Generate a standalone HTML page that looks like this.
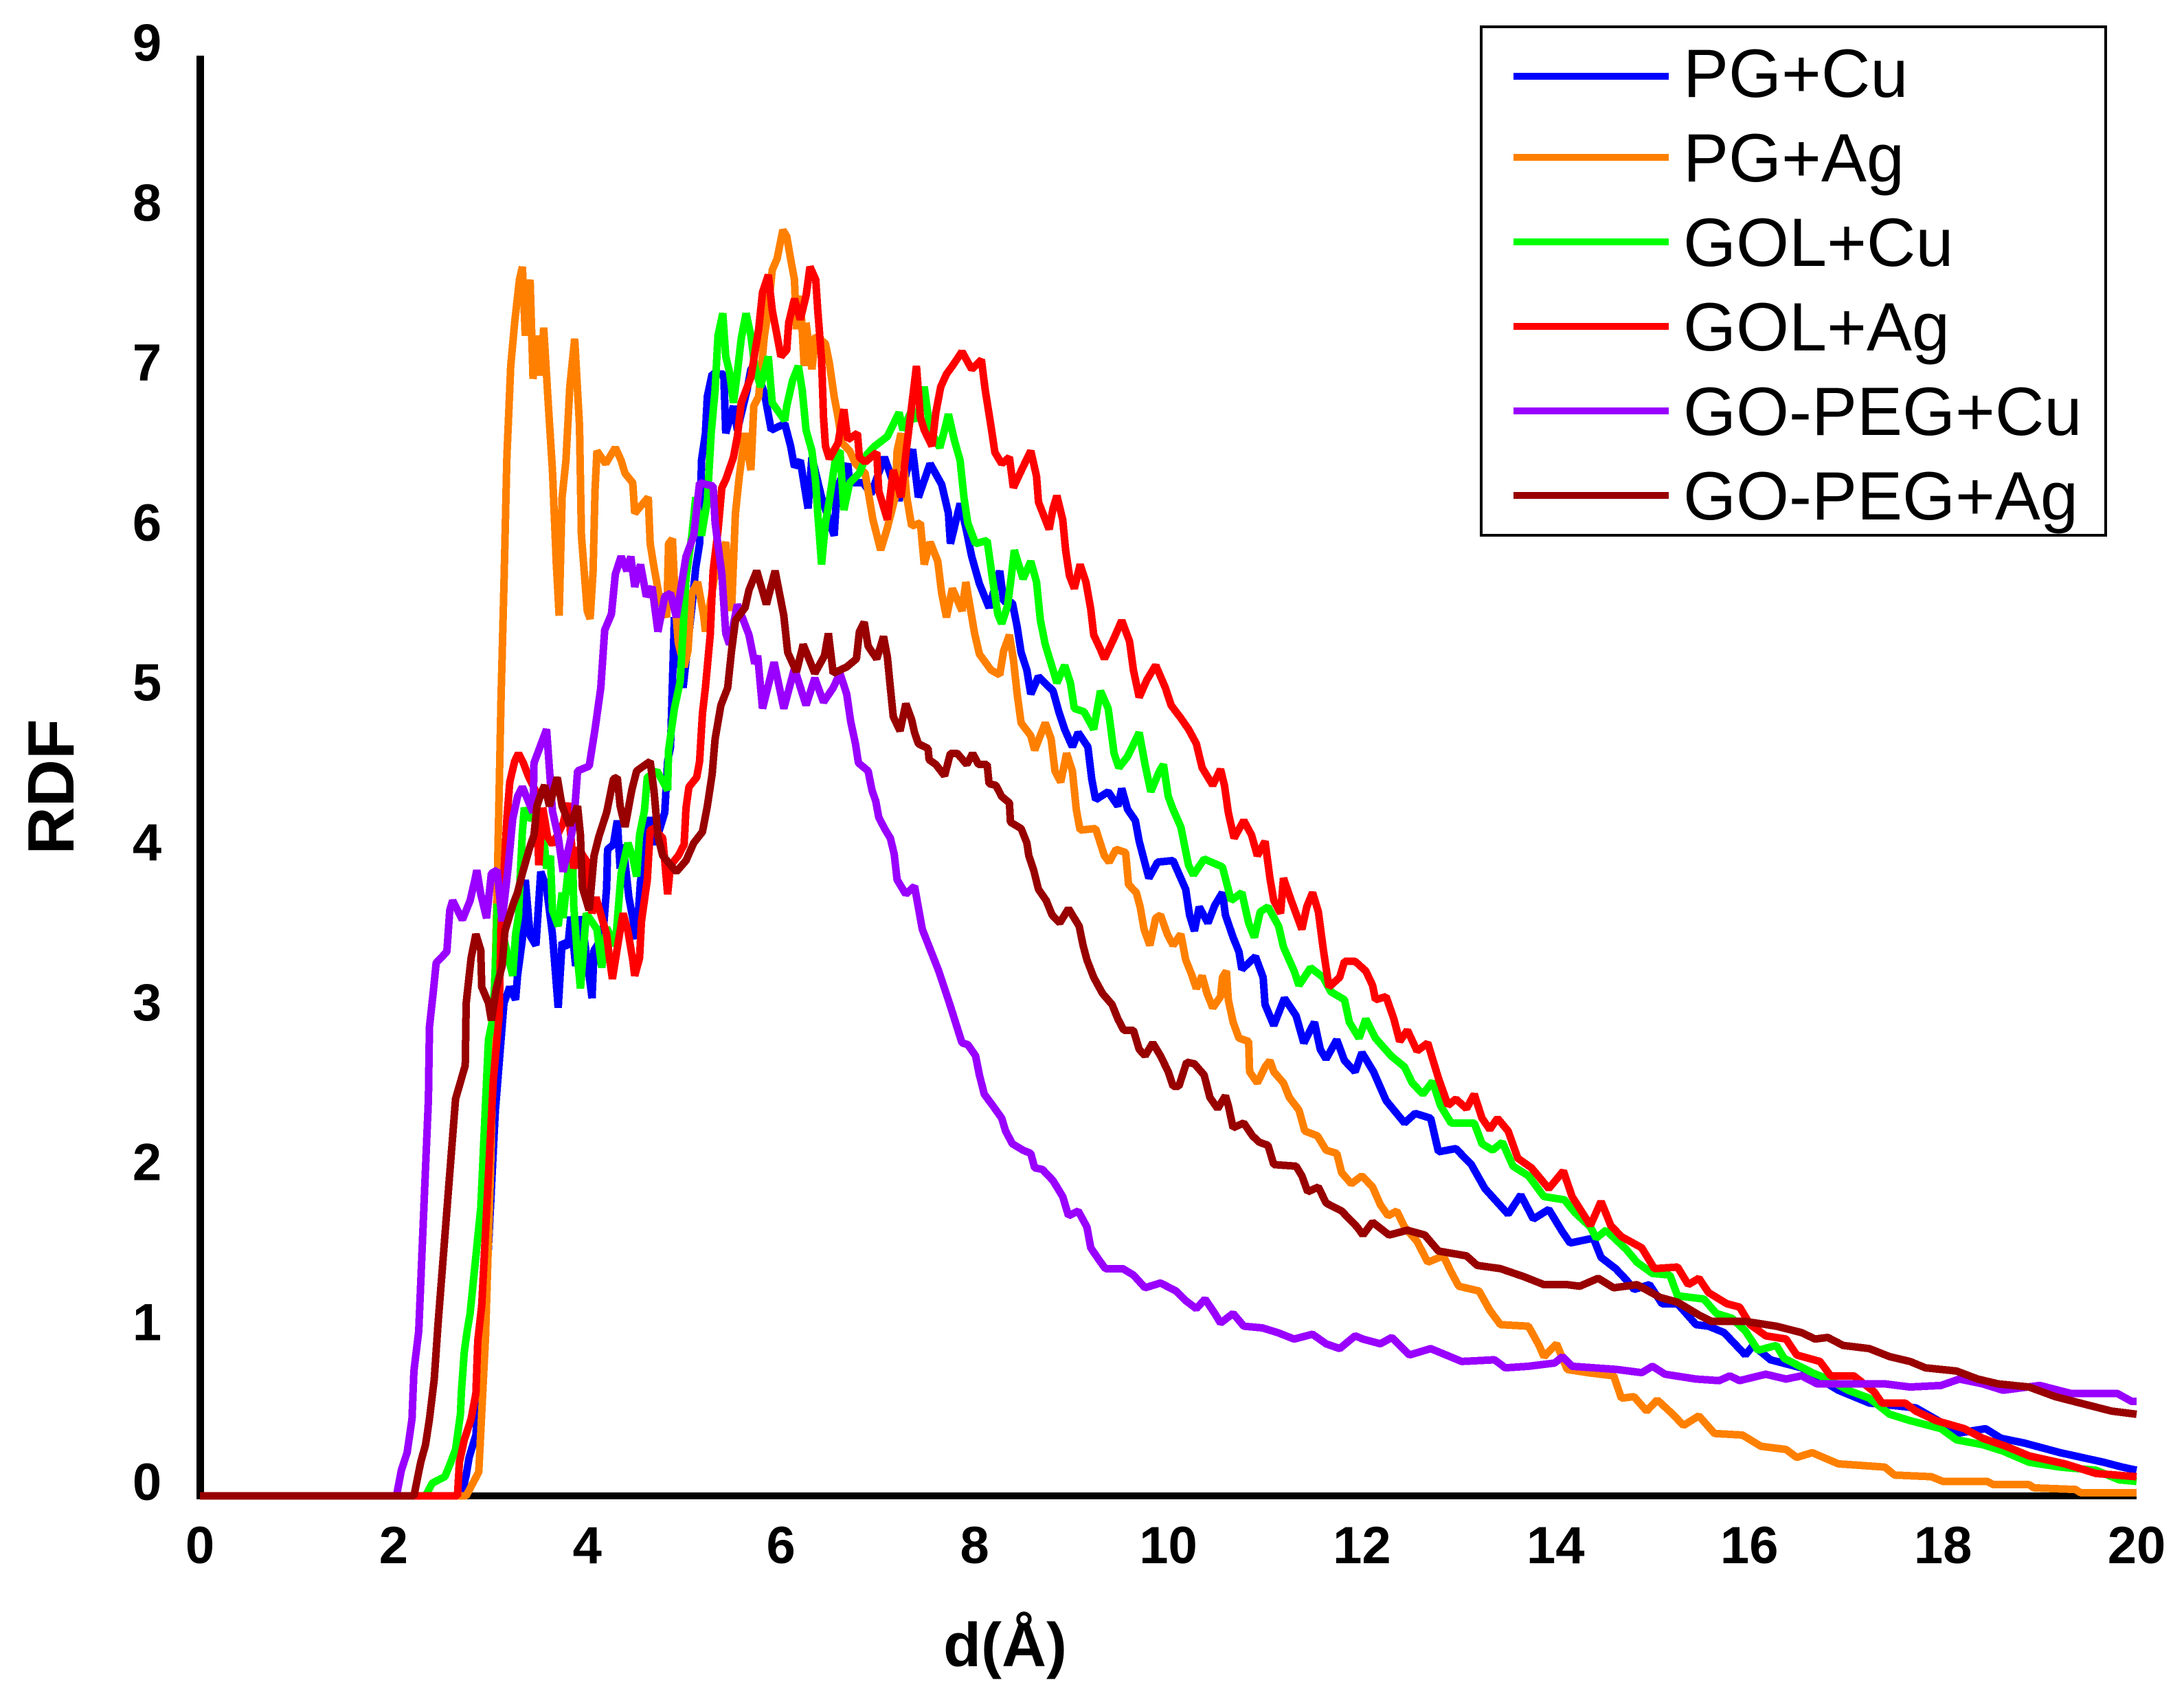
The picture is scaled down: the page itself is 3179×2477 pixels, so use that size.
<!DOCTYPE html>
<html lang="en">
<head>
<meta charset="utf-8">
<title>RDF chart</title>
<style>
html,body{margin:0;padding:0;background:#fff;}
body{width:3179px;height:2477px;overflow:hidden;}
svg{display:block;font-family:"Liberation Sans",sans-serif;}
</style>
</head>
<body>
<svg id="chart" xmlns="http://www.w3.org/2000/svg" width="3179" height="2477" viewBox="0 0 3179 2477">
<rect x="0" y="0" width="3179" height="2477" fill="#ffffff"/>
<rect x="286" y="81" width="11" height="2101" fill="#000"/>
<rect x="286" y="2172" width="2824" height="10" fill="#000"/>
<g id="ticks"></g>
<g id="series"></g>
<text x="1463" y="2425" font-size="90" font-weight="bold" text-anchor="middle">d(Å)</text>
<text transform="translate(107,1145) rotate(-90)" font-size="96" font-weight="bold" text-anchor="middle">RDF</text>
<g>
<rect x="2156" y="39" width="909" height="740" fill="#fff" stroke="#000" stroke-width="4"/>
<rect x="2203" y="106" width="226" height="10" fill="#0000ff"/>
<text x="2450" y="141" font-size="99">PG+Cu</text>
<rect x="2203" y="224" width="226" height="10" fill="#ff8000"/>
<text x="2450" y="264" font-size="99">PG+Ag</text>
<rect x="2203" y="347" width="226" height="10" fill="#00ff00"/>
<text x="2450" y="387" font-size="99">GOL+Cu</text>
<rect x="2203" y="470" width="226" height="10" fill="#ff0000"/>
<text x="2450" y="510" font-size="99">GOL+Ag</text>
<rect x="2203" y="593" width="226" height="10" fill="#9900ff"/>
<text x="2450" y="633" font-size="99">GO-PEG+Cu</text>
<rect x="2203" y="716" width="226" height="10" fill="#990000"/>
<text x="2450" y="756" font-size="99">GO-PEG+Ag</text>
</g>
</svg>
<script>
const xTickLabels = [0,2,4,6,8,10,12,14,16,18,20];
const yTickLabels = [0,1,2,3,4,5,6,7,8,9];

const pgCuD = [0,2.7,2.75,2.78,2.85,2.95,3.05,3.14,3.2,3.26,3.28,3.33,3.36,3.41,3.47,3.52,3.58,3.64,3.7,3.74,3.8,3.83,3.88,3.94,4.05,4.07,4.16,4.2,4.21,4.27,4.31,4.34,4.37,4.43,4.51,4.55,4.61,4.64,4.7,4.8,4.83,4.86,4.9,4.99,5.08,5.12,5.16,5.18,5.22,5.24,5.29,5.41,5.43,5.51,5.55,5.65,5.69,5.73,5.83,5.9,6.04,6.1,6.14,6.2,6.28,6.32,6.42,6.55,6.58,6.69,6.71,6.85,6.93,7.07,7.22,7.36,7.42,7.54,7.66,7.73,7.75,7.85,7.91,7.97,8.05,8.15,8.26,8.3,8.39,8.44,8.48,8.54,8.58,8.66,8.81,8.87,8.93,9.01,9.07,9.17,9.21,9.25,9.38,9.48,9.52,9.58,9.66,9.7,9.8,9.89,10.05,10.18,10.22,10.27,10.32,10.41,10.48,10.56,10.59,10.67,10.73,10.76,10.9,10.98,11.0,11.09,11.2,11.32,11.4,11.51,11.57,11.63,11.74,11.82,11.93,12.0,12.12,12.25,12.44,12.55,12.71,12.79,12.97,13.13,13.27,13.51,13.64,13.77,13.93,14.07,14.15,14.39,14.47,14.62,14.73,14.81,14.97,15.1,15.26,15.45,15.58,15.74,15.96,16.04,16.22,16.54,16.92,17.24,17.72,17.98,18.14,18.44,18.6,18.84,19.21,19.66,19.85,20];
const pgCuV = [0,0,0.13,0.24,0.38,1.2,2.4,3.08,3.18,3.1,3.25,3.48,3.85,3.5,3.44,3.9,3.8,3.51,3.05,3.46,3.43,3.62,3.31,3.62,3.11,3.41,3.49,3.8,4.04,4.07,4.22,3.92,4.07,3.74,3.48,3.84,4.08,4.24,4.07,4.27,4.59,4.68,5.49,5.05,5.55,5.8,5.95,6.47,6.64,6.87,7.01,7.01,6.64,6.81,6.66,6.91,7.04,7.06,6.89,6.66,6.7,6.56,6.43,6.47,6.17,6.49,6.24,6.0,6.3,6.45,6.33,6.33,6.26,6.49,6.22,6.54,6.24,6.45,6.32,6.14,5.95,6.2,6.05,5.87,5.7,5.55,5.78,5.59,5.58,5.43,5.27,5.16,5.01,5.12,5.03,4.9,4.79,4.68,4.77,4.68,4.48,4.35,4.4,4.31,4.42,4.29,4.22,4.09,3.86,3.96,3.97,3.79,3.63,3.53,3.68,3.58,3.69,3.77,3.63,3.49,3.4,3.29,3.37,3.24,3.07,2.94,3.11,3.0,2.83,2.96,2.79,2.73,2.85,2.72,2.65,2.77,2.65,2.47,2.33,2.39,2.36,2.15,2.17,2.07,1.92,1.76,1.88,1.73,1.79,1.65,1.58,1.61,1.49,1.42,1.35,1.29,1.32,1.2,1.2,1.07,1.06,1.02,0.88,0.94,0.85,0.8,0.66,0.58,0.55,0.46,0.39,0.42,0.36,0.33,0.27,0.21,0.18,0.16];

const pgAgD = [0,2.75,2.88,2.95,3.0,3.03,3.07,3.11,3.14,3.17,3.21,3.25,3.3,3.33,3.36,3.41,3.44,3.48,3.52,3.55,3.6,3.64,3.68,3.71,3.74,3.78,3.82,3.87,3.92,3.94,4.0,4.03,4.06,4.08,4.1,4.19,4.29,4.35,4.39,4.47,4.49,4.63,4.65,4.69,4.75,4.82,4.84,4.88,4.91,4.94,5.0,5.04,5.08,5.14,5.2,5.22,5.32,5.37,5.43,5.49,5.53,5.57,5.63,5.69,5.72,5.77,5.83,5.87,5.91,5.96,6.02,6.06,6.1,6.14,6.16,6.2,6.24,6.26,6.32,6.36,6.46,6.5,6.55,6.59,6.63,6.71,6.77,6.87,6.95,7.03,7.1,7.18,7.2,7.24,7.3,7.35,7.44,7.48,7.54,7.62,7.66,7.71,7.77,7.87,7.91,8.0,8.05,8.17,8.26,8.3,8.36,8.4,8.44,8.48,8.58,8.62,8.73,8.79,8.83,8.89,8.95,9.01,9.05,9.09,9.25,9.34,9.39,9.46,9.56,9.59,9.67,9.71,9.75,9.81,9.87,9.92,9.99,10.05,10.13,10.18,10.24,10.29,10.35,10.4,10.46,10.54,10.56,10.6,10.62,10.67,10.73,10.83,10.84,10.92,11.0,11.05,11.09,11.19,11.25,11.35,11.41,11.54,11.63,11.74,11.79,11.89,12.0,12.11,12.19,12.27,12.36,12.44,12.57,12.68,12.84,12.92,13.0,13.21,13.32,13.43,13.72,13.83,13.88,14.01,14.12,14.33,14.6,14.68,14.81,14.94,15.05,15.21,15.32,15.48,15.64,15.93,16.12,16.38,16.49,16.65,16.92,17.4,17.5,17.88,18.0,18.46,18.52,18.89,18.94,19.37,19.42,20];
const pgAgV = [0,0,0.15,1.0,2.0,2.8,3.8,5.0,5.7,6.49,7.06,7.33,7.6,7.68,7.25,7.6,6.98,7.25,7.0,7.3,6.8,6.41,5.83,5.5,6.24,6.47,6.93,7.23,6.69,6.0,5.53,5.48,5.78,6.28,6.53,6.45,6.55,6.47,6.39,6.33,6.14,6.24,5.95,5.8,5.6,5.49,5.95,5.98,5.57,5.33,5.18,5.28,5.64,5.71,5.51,5.4,5.76,5.84,5.96,5.53,6.14,6.37,6.64,6.41,6.81,6.87,7.25,7.41,7.66,7.73,7.91,7.87,7.73,7.6,7.29,7.5,7.06,7.33,7.04,7.25,7.2,7.08,6.87,6.74,6.58,6.53,6.45,6.39,6.1,5.91,6.05,6.24,6.53,6.64,6.24,6.06,6.08,5.82,5.96,5.84,5.64,5.49,5.67,5.53,5.71,5.39,5.26,5.16,5.13,5.28,5.38,5.23,5.01,4.83,4.75,4.66,4.83,4.73,4.53,4.46,4.64,4.53,4.29,4.16,4.17,4.0,3.96,4.04,4.02,3.82,3.77,3.68,3.54,3.44,3.61,3.63,3.51,3.44,3.51,3.35,3.26,3.17,3.25,3.14,3.05,3.12,3.24,3.28,3.1,2.96,2.86,2.84,2.65,2.58,2.68,2.72,2.65,2.58,2.49,2.41,2.28,2.25,2.16,2.14,2.02,1.95,2.0,1.93,1.82,1.75,1.78,1.68,1.59,1.46,1.5,1.4,1.31,1.28,1.16,1.07,1.06,0.94,0.87,0.95,0.79,0.77,0.75,0.61,0.62,0.53,0.6,0.51,0.44,0.5,0.39,0.38,0.31,0.29,0.24,0.27,0.2,0.18,0.13,0.12,0.09,0.09,0.07,0.07,0.05,0.04,0.02,0.02];

const golCuD = [0,2.33,2.4,2.53,2.59,2.64,2.69,2.7,2.73,2.76,2.79,2.9,2.98,3.02,3.04,3.06,3.07,3.1,3.23,3.26,3.29,3.31,3.33,3.35,3.39,3.44,3.55,3.58,3.62,3.64,3.7,3.74,3.75,3.8,3.85,3.86,3.9,3.93,3.99,4.1,4.15,4.2,4.29,4.35,4.42,4.47,4.51,4.54,4.59,4.62,4.72,4.83,4.84,4.9,4.96,5.02,5.08,5.12,5.18,5.24,5.28,5.32,5.35,5.4,5.43,5.47,5.51,5.55,5.59,5.64,5.69,5.73,5.79,5.87,5.91,6.04,6.06,6.12,6.18,6.22,6.26,6.32,6.36,6.38,6.42,6.46,6.5,6.57,6.61,6.65,6.71,6.81,6.89,6.97,7.1,7.22,7.26,7.34,7.4,7.48,7.54,7.64,7.69,7.73,7.79,7.85,7.89,7.93,8.01,8.13,8.18,8.24,8.28,8.34,8.38,8.41,8.5,8.58,8.64,8.68,8.73,8.81,8.85,8.93,8.99,9.03,9.13,9.23,9.3,9.38,9.44,9.49,9.58,9.7,9.76,9.82,9.91,9.95,10.0,10.05,10.13,10.21,10.26,10.37,10.56,10.65,10.76,10.83,10.89,10.95,11.03,11.14,11.19,11.3,11.35,11.47,11.6,11.68,11.82,11.87,11.97,12.04,12.14,12.3,12.44,12.52,12.63,12.73,12.81,12.92,13.16,13.24,13.35,13.45,13.56,13.72,13.88,14.09,14.2,14.36,14.42,14.52,14.73,14.84,15.0,15.18,15.26,15.53,15.66,15.82,15.96,16.09,16.28,16.36,16.65,16.81,17.02,17.24,17.45,17.66,17.98,18.14,18.41,18.62,18.89,19.21,19.58,19.82,20];
const golCuV = [0,0,0.08,0.12,0.21,0.29,0.51,0.65,0.9,1.03,1.14,1.8,2.85,2.97,3.15,3.46,3.7,3.58,3.25,3.51,3.62,3.9,4.15,4.3,4.23,4.25,4.12,3.92,4.0,3.66,3.56,3.77,3.61,3.89,3.95,3.69,3.36,3.17,3.64,3.54,3.3,3.55,3.44,3.89,4.08,3.99,3.87,4.13,4.28,4.49,4.53,4.41,4.66,4.92,5.09,5.74,6.0,6.24,6.0,6.22,6.64,6.91,7.25,7.39,7.12,7.02,6.83,7.02,7.23,7.39,7.25,7.06,6.93,7.12,6.83,6.72,6.81,6.97,7.06,6.91,6.66,6.53,6.33,6.14,5.82,6.08,6.22,6.51,6.53,6.16,6.33,6.39,6.51,6.56,6.62,6.77,6.66,6.77,6.72,6.93,6.66,6.55,6.66,6.76,6.6,6.47,6.24,6.08,5.95,5.97,5.75,5.51,5.45,5.56,5.75,5.91,5.73,5.84,5.71,5.47,5.32,5.16,5.08,5.19,5.08,4.92,4.9,4.79,5.03,4.92,4.64,4.55,4.62,4.77,4.57,4.4,4.53,4.57,4.37,4.29,4.18,3.94,3.88,3.98,3.93,3.72,3.77,3.58,3.49,3.65,3.68,3.56,3.43,3.28,3.19,3.3,3.24,3.15,3.1,2.96,2.86,2.98,2.86,2.75,2.68,2.58,2.51,2.59,2.44,2.33,2.33,2.2,2.16,2.21,2.06,2.0,1.87,1.85,1.77,1.68,1.61,1.66,1.54,1.46,1.39,1.38,1.25,1.23,1.14,1.11,1.03,0.91,0.94,0.86,0.77,0.73,0.66,0.61,0.51,0.47,0.42,0.35,0.32,0.28,0.21,0.18,0.16,0.1,0.09];

const golAgD = [0,2.66,2.68,2.73,2.8,2.85,2.87,2.91,3.03,3.09,3.11,3.14,3.17,3.2,3.25,3.29,3.34,3.39,3.47,3.5,3.54,3.59,3.64,3.75,3.8,3.86,3.9,3.99,4.02,4.05,4.09,4.17,4.2,4.23,4.26,4.32,4.37,4.42,4.47,4.49,4.54,4.56,4.62,4.65,4.69,4.78,4.83,4.86,4.94,5.0,5.02,5.05,5.13,5.16,5.19,5.22,5.27,5.3,5.35,5.39,5.43,5.51,5.55,5.59,5.69,5.77,5.81,5.87,5.91,5.96,6.0,6.06,6.08,6.14,6.2,6.26,6.3,6.36,6.38,6.42,6.44,6.46,6.5,6.59,6.65,6.69,6.79,6.81,6.87,6.99,7.01,7.1,7.16,7.24,7.3,7.34,7.4,7.44,7.48,7.56,7.6,7.65,7.71,7.77,7.87,7.97,8.07,8.11,8.17,8.21,8.28,8.36,8.4,8.5,8.58,8.64,8.66,8.77,8.81,8.85,8.91,8.94,8.98,9.03,9.09,9.15,9.2,9.23,9.3,9.34,9.44,9.52,9.6,9.64,9.7,9.78,9.87,9.97,10.03,10.13,10.21,10.29,10.35,10.46,10.54,10.58,10.62,10.68,10.78,10.86,10.92,11.0,11.05,11.09,11.16,11.19,11.27,11.38,11.43,11.49,11.55,11.6,11.63,11.66,11.77,11.82,11.93,12.04,12.11,12.14,12.25,12.33,12.39,12.47,12.57,12.68,12.79,12.89,12.97,13.08,13.16,13.24,13.32,13.4,13.51,13.61,13.75,13.93,14.08,14.17,14.36,14.47,14.57,14.68,14.89,15.02,15.26,15.37,15.48,15.58,15.77,15.9,16.01,16.17,16.38,16.49,16.73,16.84,17.08,17.29,17.37,17.61,17.72,17.93,18.22,18.41,18.65,18.89,19.26,19.58,20];
const golAgV = [0,0,0.21,0.35,0.48,0.64,0.97,1.19,2.6,3.0,3.58,3.9,4.23,4.46,4.59,4.64,4.58,4.5,4.4,3.94,4.3,4.12,4.07,4.2,4.33,3.92,4.05,3.97,3.85,3.64,3.74,3.57,3.51,3.36,3.23,3.46,3.64,3.53,3.35,3.25,3.36,3.59,3.85,4.16,4.17,4.11,3.76,3.94,4.0,4.07,4.3,4.43,4.49,4.59,4.89,5.05,5.38,5.78,6.03,6.3,6.35,6.49,6.62,6.83,6.99,7.29,7.52,7.63,7.41,7.25,7.12,7.16,7.33,7.48,7.35,7.5,7.68,7.6,7.41,7.1,6.74,6.56,6.48,6.58,6.79,6.6,6.64,6.49,6.46,6.52,6.28,6.1,6.41,6.24,6.56,6.76,7.06,6.74,6.66,6.56,6.77,6.93,7.01,7.06,7.15,7.04,7.1,6.91,6.68,6.52,6.45,6.49,6.3,6.43,6.53,6.37,6.21,6.04,6.17,6.25,6.1,5.91,5.75,5.67,5.82,5.71,5.54,5.38,5.29,5.23,5.36,5.47,5.34,5.16,4.99,5.1,5.19,5.05,4.94,4.86,4.79,4.7,4.55,4.44,4.54,4.44,4.27,4.11,4.22,4.13,4.0,4.09,3.86,3.72,3.64,3.86,3.72,3.54,3.68,3.77,3.65,3.42,3.3,3.18,3.24,3.34,3.34,3.28,3.19,3.1,3.12,2.98,2.84,2.91,2.78,2.83,2.61,2.44,2.48,2.42,2.51,2.36,2.29,2.36,2.28,2.11,2.05,1.92,2.03,1.87,1.69,1.84,1.69,1.62,1.55,1.42,1.43,1.32,1.36,1.27,1.2,1.18,1.07,1.0,0.98,0.88,0.84,0.75,0.75,0.65,0.58,0.58,0.53,0.47,0.42,0.36,0.31,0.25,0.2,0.14,0.12];

const goPegCuD = [0,2.03,2.08,2.14,2.19,2.21,2.26,2.36,2.37,2.41,2.44,2.55,2.58,2.61,2.71,2.79,2.84,2.86,2.9,2.96,3.01,3.07,3.12,3.18,3.23,3.28,3.33,3.44,3.45,3.5,3.58,3.61,3.64,3.7,3.75,3.82,3.86,3.9,4.02,4.08,4.14,4.18,4.25,4.29,4.35,4.41,4.45,4.49,4.55,4.61,4.67,4.73,4.8,4.86,4.92,4.98,5.02,5.1,5.16,5.3,5.32,5.39,5.43,5.47,5.55,5.67,5.73,5.76,5.81,5.93,6.03,6.14,6.26,6.35,6.44,6.54,6.61,6.68,6.72,6.77,6.8,6.9,6.94,6.98,7.01,7.07,7.13,7.17,7.2,7.29,7.38,7.46,7.63,7.75,7.87,7.93,8.01,8.05,8.1,8.21,8.28,8.32,8.39,8.5,8.58,8.62,8.7,8.81,8.91,8.97,9.07,9.16,9.2,9.29,9.35,9.53,9.64,9.76,9.92,10.08,10.18,10.29,10.38,10.48,10.54,10.67,10.78,10.97,11.13,11.3,11.49,11.63,11.77,11.93,12.01,12.19,12.31,12.49,12.71,13.03,13.37,13.48,13.72,13.99,14.07,14.17,14.63,14.89,15.0,15.13,15.45,15.69,15.8,15.9,16.17,16.38,16.54,16.7,17.13,17.4,17.66,17.98,18.17,18.41,18.62,19.0,19.32,19.8,19.95,20];
const goPegCuV = [0,0,0.16,0.27,0.48,0.78,1.03,2.48,2.93,3.15,3.33,3.4,3.66,3.72,3.6,3.72,3.85,3.91,3.76,3.61,3.89,3.91,3.59,3.91,4.23,4.37,4.43,4.27,4.58,4.66,4.79,4.54,4.28,4.12,3.9,4.08,4.2,4.53,4.56,4.79,5.05,5.41,5.51,5.76,5.87,5.78,5.87,5.68,5.82,5.62,5.68,5.4,5.62,5.64,5.49,5.72,5.87,6.0,6.33,6.31,6.08,5.76,5.39,5.32,5.57,5.38,5.2,5.25,4.92,5.21,4.92,5.17,4.94,5.11,4.96,5.05,5.14,5.01,4.84,4.7,4.58,4.53,4.41,4.34,4.24,4.17,4.11,4.01,3.85,3.76,3.81,3.54,3.28,3.06,2.83,2.82,2.75,2.63,2.51,2.42,2.36,2.28,2.2,2.16,2.14,2.05,2.04,1.97,1.87,1.75,1.78,1.68,1.55,1.47,1.42,1.42,1.38,1.3,1.33,1.28,1.22,1.17,1.23,1.14,1.08,1.14,1.06,1.05,1.02,0.98,1.01,0.95,0.92,1.0,0.98,0.95,0.99,0.88,0.92,0.84,0.85,0.8,0.81,0.83,0.87,0.81,0.79,0.77,0.81,0.76,0.73,0.72,0.75,0.72,0.76,0.73,0.75,0.7,0.7,0.7,0.68,0.69,0.73,0.7,0.66,0.69,0.64,0.64,0.59,0.59];

const goPegAgD = [0,2.21,2.28,2.33,2.37,2.42,2.46,2.64,2.74,2.75,2.8,2.85,2.9,2.91,2.98,3.01,3.06,3.12,3.15,3.23,3.28,3.33,3.4,3.45,3.48,3.53,3.56,3.61,3.69,3.74,3.82,3.9,3.93,3.95,4.02,4.07,4.12,4.2,4.27,4.31,4.34,4.39,4.46,4.51,4.65,4.69,4.73,4.78,4.92,5.02,5.1,5.19,5.24,5.29,5.32,5.38,5.45,5.49,5.53,5.63,5.67,5.75,5.85,5.94,6.03,6.07,6.16,6.23,6.35,6.45,6.49,6.54,6.68,6.78,6.81,6.86,6.9,6.99,7.06,7.1,7.13,7.16,7.23,7.29,7.35,7.38,7.42,7.52,7.53,7.6,7.69,7.75,7.82,7.92,7.98,8.04,8.13,8.15,8.22,8.28,8.36,8.37,8.48,8.54,8.56,8.61,8.66,8.74,8.8,8.88,8.97,9.08,9.12,9.16,9.23,9.32,9.42,9.48,9.54,9.64,9.7,9.76,9.84,9.92,10.0,10.05,10.11,10.19,10.27,10.37,10.43,10.51,10.59,10.62,10.67,10.78,10.87,10.94,11.03,11.09,11.32,11.38,11.44,11.55,11.63,11.79,11.95,12.01,12.11,12.28,12.47,12.65,12.79,13.08,13.19,13.43,13.67,13.88,14.12,14.25,14.44,14.6,14.84,15.08,15.26,15.48,15.61,15.96,16.28,16.54,16.68,16.81,16.97,17.24,17.45,17.66,17.82,18.14,18.36,18.57,18.89,19.16,19.48,19.74,20];
const goPegAgV = [0,0,0.21,0.32,0.48,0.73,1.08,2.48,2.69,3.08,3.36,3.51,3.41,3.18,3.08,2.97,3.17,3.31,3.53,3.69,3.77,3.89,4.04,4.13,4.31,4.4,4.44,4.31,4.49,4.31,4.19,4.31,4.13,3.8,3.66,4.0,4.12,4.27,4.48,4.49,4.31,4.18,4.41,4.53,4.59,4.4,4.12,4.0,3.9,3.97,4.08,4.15,4.31,4.51,4.73,4.94,5.05,5.28,5.47,5.55,5.66,5.78,5.57,5.78,5.5,5.27,5.15,5.32,5.14,5.25,5.39,5.14,5.18,5.23,5.4,5.46,5.31,5.23,5.37,5.24,5.05,4.87,4.78,4.95,4.85,4.77,4.7,4.67,4.6,4.57,4.5,4.64,4.64,4.57,4.64,4.57,4.57,4.45,4.44,4.37,4.33,4.21,4.17,4.08,4.0,3.91,3.79,3.72,3.63,3.58,3.67,3.56,3.44,3.35,3.24,3.14,3.07,2.98,2.91,2.91,2.79,2.75,2.83,2.75,2.65,2.56,2.56,2.71,2.7,2.63,2.49,2.42,2.5,2.44,2.3,2.33,2.25,2.21,2.19,2.07,2.06,2.0,1.9,1.93,1.83,1.78,1.68,1.63,1.71,1.63,1.66,1.63,1.53,1.5,1.44,1.42,1.37,1.32,1.32,1.31,1.36,1.3,1.32,1.24,1.21,1.13,1.09,1.09,1.06,1.02,0.98,0.99,0.94,0.92,0.87,0.84,0.8,0.78,0.73,0.7,0.68,0.62,0.57,0.53,0.51];

const seriesNames = ['pg-cu','pg-ag','gol-cu','gol-ag','go-peg-cu','go-peg-ag'];
const seriesColors = ['#0000ff','#ff8000','#00ff00','#ff0000','#9900ff','#990000'];
const seriesD = [pgCuD,pgAgD,golCuD,golAgD,goPegCuD,goPegAgD];
const seriesV = [pgCuV,pgAgV,golCuV,golAgV,goPegCuV,goPegAgV];

const SVG_NS = 'http://www.w3.org/2000/svg';
function xScale(d){ return 291 + d * 140.95; }
function yScale(v){ return 2177 - v * 232.9; }

const seriesGroup = document.getElementById('series');
seriesNames.forEach(function(name, i){
  const ds = seriesD[i], vs = seriesV[i];
  const pts = ds.map(function(d, j){ return xScale(d).toFixed(1) + ',' + yScale(vs[j]).toFixed(1); }).join(' ');
  const line = document.createElementNS(SVG_NS, 'polyline');
  
  
  line.setAttribute('points', pts);
  line.setAttribute('fill', 'none');
  line.setAttribute('stroke', seriesColors[i]);
  line.setAttribute('stroke-width', '11');
  line.setAttribute('stroke-linejoin', 'bevel');
  line.setAttribute('shape-rendering', 'crispEdges');
  seriesGroup.appendChild(line);
});

const tickGroup = document.getElementById('ticks');
xTickLabels.forEach(function(t){
  const el = document.createElementNS(SVG_NS, 'text');
  
  
  el.setAttribute('x', xScale(t));
  el.setAttribute('y', 2275);
  el.setAttribute('font-size', '76');
  el.setAttribute('font-weight', 'bold');
  el.setAttribute('text-anchor', 'middle');
  el.textContent = t;
  tickGroup.appendChild(el);
});
yTickLabels.forEach(function(t){
  const el = document.createElementNS(SVG_NS, 'text');
  
  
  el.setAttribute('x', 214);
  el.setAttribute('y', yScale(t) + 6 + t * 0.2);
  el.setAttribute('font-size', '76');
  el.setAttribute('font-weight', 'bold');
  el.setAttribute('text-anchor', 'middle');
  el.textContent = t;
  tickGroup.appendChild(el);
});
</script>
</body>
</html>
